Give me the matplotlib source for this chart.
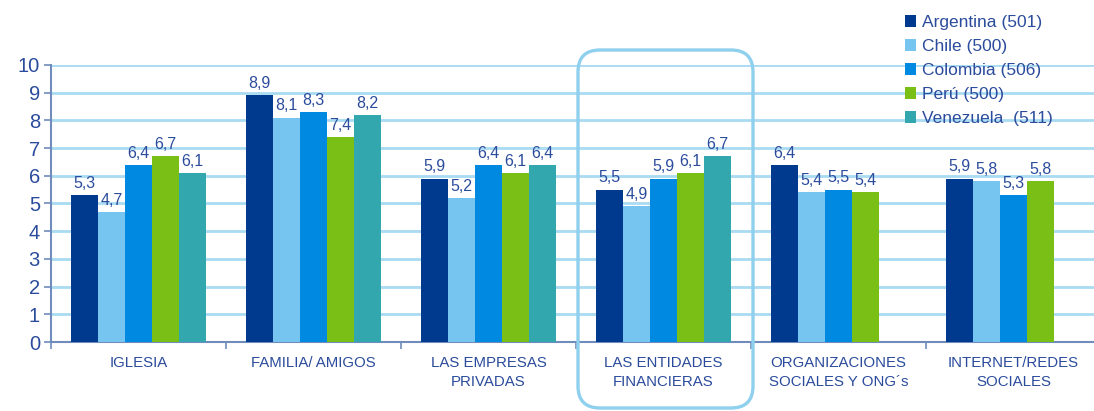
import numpy as np
import matplotlib.pyplot as plt
from matplotlib.patches import FancyBboxPatch
from matplotlib.transforms import IdentityTransform

# Confianza por tipo de institución, escala 0-10
categorias = ["IGLESIA", "FAMILIA/ AMIGOS", "LAS EMPRESAS\nPRIVADAS",
              "LAS ENTIDADES\nFINANCIERAS", "ORGANIZACIONES\nSOCIALES Y ONG´s",
              "INTERNET/REDES\nSOCIALES"]
paises = ["Argentina (501)", "Chile (500)", "Colombia (506)", "Perú (500)",
          "Venezuela  (511)"]
argentina = [5.3, 8.9, 5.9, 5.5, 6.4, 5.9]
chile = [4.7, 8.1, 5.2, 4.9, 5.4, 5.8]
colombia = [6.4, 8.3, 6.4, 5.9, 5.5, 5.3]
peru = [6.7, 7.4, 6.1, 6.1, 5.4, 5.8]
venezuela = [6.1, 8.2, 6.4, 6.7, np.nan, np.nan]

colores = ["#003a8f", "#76c5f0", "#0089e0", "#7abf16", "#33a7ae"]
azul_texto = "#2b4c9c"
azul_grid = "#a9dbf3"
azul_eje = "#6f8cbc"

plt.rcParams["font.family"] = ["Liberation Sans", "DejaVu Sans"]

fig = plt.figure(figsize=(10.94, 4.11), dpi=100)
ax = fig.add_axes([51 / 1094, 69 / 411, 1050 / 1094, 277 / 411])

series = [argentina, chile, colombia, peru, venezuela]
x = np.arange(len(categorias))
ancho = 0.154
inicio = 0.114

barras = []
for k, (vals, color) in enumerate(zip(series, colores)):
    pos = x + inicio + ancho * (k + 0.5)
    b = ax.bar(pos, vals, width=ancho, color=color, zorder=3, label=paises[k])
    barras.append(b)
    for px, v in zip(pos, vals):
        if np.isnan(v):
            continue
        ax.annotate(f"{v:.1f}".replace(".", ","), (px, v), xytext=(0, 3),
                    textcoords="offset points", ha="center", va="bottom",
                    fontsize=11.5, color=azul_texto, zorder=4)

ax.set_xlim(0, len(categorias))
ax.set_ylim(0, 10)
ax.set_yticks(range(0, 11))
ax.tick_params(axis="y", labelsize=14.5, labelcolor=azul_texto, color=azul_eje,
               length=5, width=1.2, pad=3)
ax.grid(axis="y", color=azul_grid, linewidth=2, zorder=0)

# ticks mayores en los limites de cada grupo, etiquetas en el centro
ax.set_xticks(range(0, len(categorias) + 1))
ax.set_xticklabels([])
ax.set_xticks(x + 0.5, minor=True)
ax.set_xticklabels(categorias, minor=True, fontsize=10.8, color=azul_texto,
                   linespacing=1.45)
ax.tick_params(axis="x", which="major", color=azul_eje, length=5, width=1.2)
ax.tick_params(axis="x", which="minor", length=0, pad=10)

for lado in ["top", "right"]:
    ax.spines[lado].set_visible(False)
for lado in ["left", "bottom"]:
    ax.spines[lado].set_color(azul_eje)
    ax.spines[lado].set_linewidth(1.5)

leg = fig.legend(handles=barras, loc="upper left",
                 bbox_to_anchor=(905 / 1094, 1 - 15 / 411), frameon=False,
                 fontsize=12.5, handlelength=0.65, handleheight=0.65,
                 handletextpad=0.35, labelspacing=0.52, borderaxespad=0,
                 borderpad=0)
for t in leg.get_texts():
    t.set_color(azul_texto)

# recuadro redondeado sobre las entidades financieras
recuadro = FancyBboxPatch((578, 3), 175, 358,
                          boxstyle="round,pad=0,rounding_size=22",
                          transform=IdentityTransform(), fill=False,
                          edgecolor="#8fd0ee", linewidth=2.4, zorder=10)
fig.patches.append(recuadro)

fig.savefig("out.png", dpi=100)
